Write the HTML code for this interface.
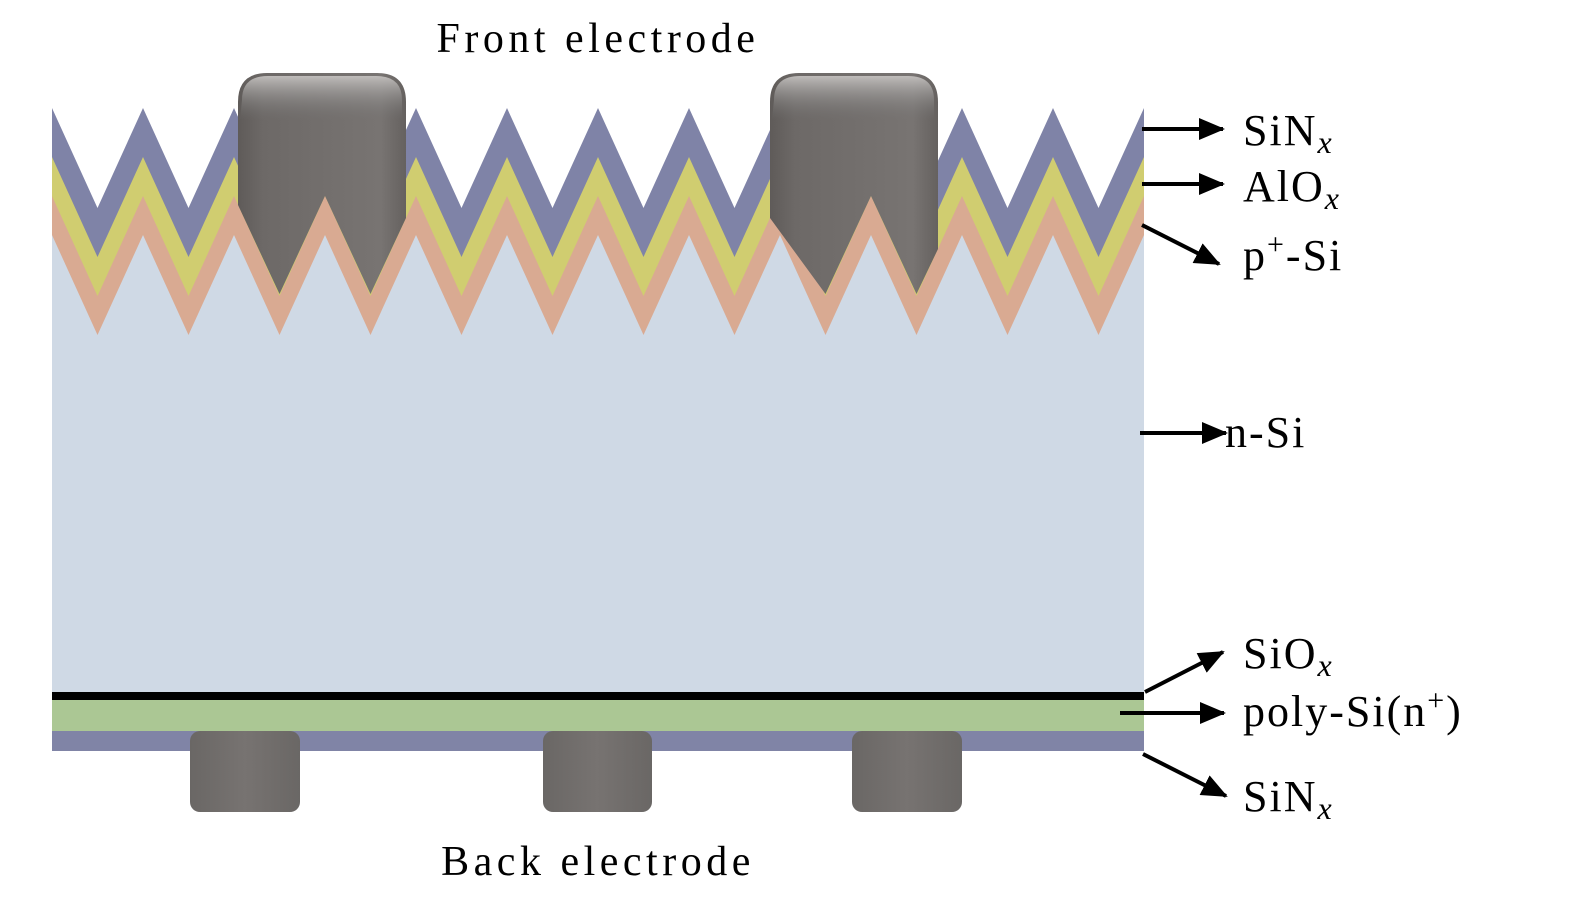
<!DOCTYPE html>
<html><head><meta charset="utf-8"><style>
html,body{margin:0;padding:0;background:#fff;}
svg{display:block;}
text{font-family:"Liberation Serif",serif;fill:#000;}
</style></head><body>
<svg width="1575" height="906" viewBox="0 0 1575 906" xmlns="http://www.w3.org/2000/svg">
<defs>
<path id="zz" d="M52,108 L97.5,208 L143,108 L188.5,208 L234,108 L279.5,208 L325,108 L370.5,208 L416,108 L461.5,208 L507,108 L552.5,208 L598,108 L643.5,208 L689,108 L734.5,208 L780,108 L825.5,208 L871,108 L916.5,208 L962,108 L1007.5,208 L1053,108 L1098.5,208 L1144,108 L1144,566 L52,566 Z"/>
<linearGradient id="eg" x1="0" y1="0" x2="1" y2="0">
<stop offset="0" stop-color="#5f5b59"/><stop offset="0.15" stop-color="#6d6967"/><stop offset="0.85" stop-color="#787472"/><stop offset="1" stop-color="#65615f"/>
</linearGradient>
<linearGradient id="eh" x1="0" y1="0" x2="0" y2="1">
<stop offset="0" stop-color="#c8c5c3" stop-opacity="0.9"/><stop offset="1" stop-color="#777" stop-opacity="0"/>
</linearGradient>
<linearGradient id="bg" x1="0" y1="0" x2="1" y2="0">
<stop offset="0" stop-color="#6a6765"/><stop offset="0.5" stop-color="#777371"/><stop offset="1" stop-color="#6a6765"/>
</linearGradient>
<marker id="ah" markerWidth="26" markerHeight="22" refX="24" refY="11" orient="auto" markerUnits="userSpaceOnUse" viewBox="0 0 26 22">
<path d="M0,0 L26,11 L0,22 Z" fill="#000"/></marker>
</defs>
<use href="#zz" fill="#7f83a7"/>
<use href="#zz" fill="#d0cd70" transform="translate(0,49)"/>
<use href="#zz" fill="#d9aa92" transform="translate(0,88)"/>
<use href="#zz" fill="#cfd9e5" transform="translate(0,127)"/>
<rect x="52" y="692" width="1092" height="8" fill="#000"/>
<rect x="52" y="700" width="1092" height="31" fill="#abc794"/>
<rect x="52" y="731" width="1092" height="20" fill="#8084a6"/>
<path d="M238,102 Q238,73 267,73 L377,73 Q406,73 406,102 L406,218 L370.5,294 L325,196 L279.5,294 L238,205 Z" fill="url(#eg)"/>
<path d="M242,100 Q242,76 268,76 L376,76 Q402,76 402,100 L402,120 L240,120 Z" fill="url(#eh)"/>
<path d="M770,102 Q770,73 799,73 L909,73 Q938,73 938,102 L938,249 L916.5,294 L871,196 L825.5,294 L770,218 Z" fill="url(#eg)"/>
<path d="M774,100 Q774,76 800,76 L908,76 Q934,76 934,100 L934,120 L772,120 Z" fill="url(#eh)"/>
<rect x="190" y="731" width="110" height="81" rx="10" fill="url(#bg)"/>
<rect x="543" y="731" width="109" height="81" rx="10" fill="url(#bg)"/>
<rect x="852" y="731" width="110" height="81" rx="10" fill="url(#bg)"/>
<g stroke="#000" stroke-width="4" fill="none" marker-end="url(#ah)">
<line x1="1142" y1="129" x2="1223" y2="129"/>
<line x1="1142" y1="184" x2="1223" y2="184"/>
<line x1="1142" y1="225" x2="1219" y2="264"/>
<line x1="1140" y1="433" x2="1226" y2="433"/>
<line x1="1145" y1="692" x2="1223" y2="652"/>
<line x1="1120" y1="713" x2="1224" y2="713"/>
<line x1="1143" y1="754" x2="1226" y2="796"/>
</g>
<text x="598" y="52" font-size="42" text-anchor="middle" letter-spacing="4.5">Front electrode</text>
<text x="598" y="875" font-size="42" text-anchor="middle" letter-spacing="4.5">Back electrode</text>
<text x="1243" y="145" font-size="44" letter-spacing="2">SiN<tspan font-size="32" font-style="italic" dy="8">x</tspan></text>
<text x="1243" y="201" font-size="44" letter-spacing="2">AlO<tspan font-size="32" font-style="italic" dy="8">x</tspan></text>
<text x="1243" y="270" font-size="44" letter-spacing="2">p<tspan font-size="30" dy="-16">+</tspan><tspan dy="16">-Si</tspan></text>
<text x="1225" y="447" font-size="44" letter-spacing="2">n-Si</text>
<text x="1243" y="668" font-size="44" letter-spacing="2">SiO<tspan font-size="32" font-style="italic" dy="8">x</tspan></text>
<text x="1243" y="726" font-size="44" letter-spacing="2">poly-Si(n<tspan font-size="30" dy="-16">+</tspan><tspan dy="16">)</tspan></text>
<text x="1243" y="811" font-size="44" letter-spacing="2">SiN<tspan font-size="32" font-style="italic" dy="8">x</tspan></text>
</svg>
</body></html>
